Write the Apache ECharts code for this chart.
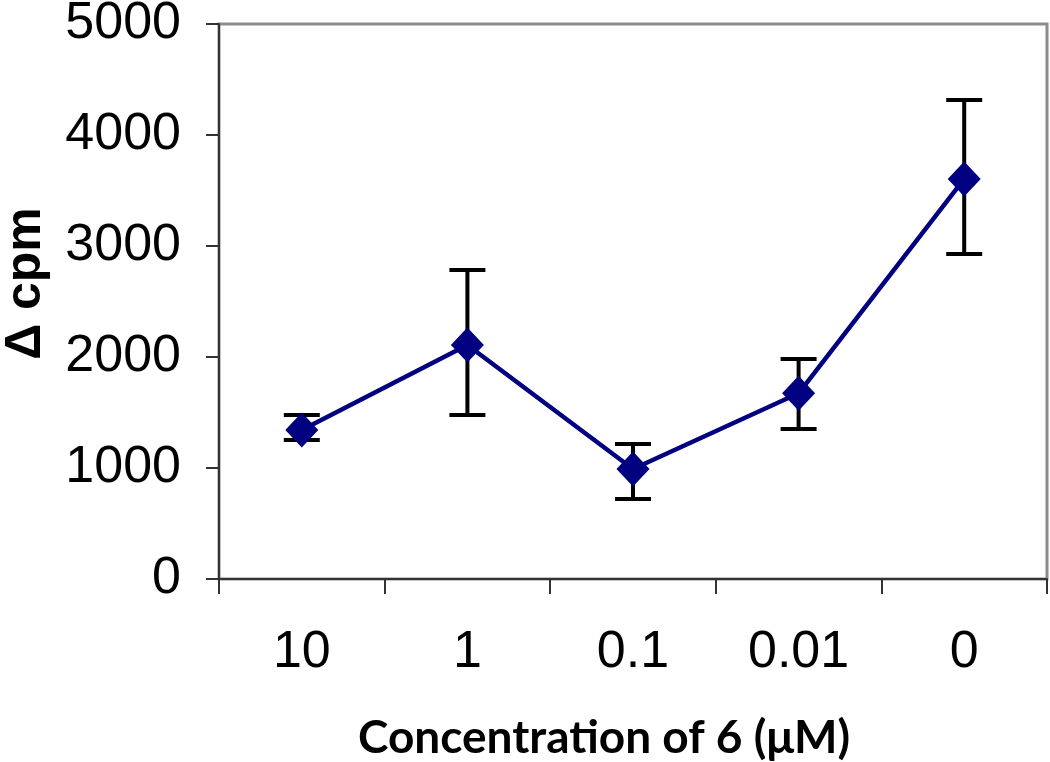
<!DOCTYPE html>
<html>
<head>
<meta charset="utf-8">
<script src="https://cdn.jsdelivr.net/npm/echarts@6/dist/echarts.min.js"></script>
<style>
html,body{margin:0;padding:0;background:#fff;}
#chart{width:1050px;height:762px;}
</style>
</head>
<body>
<div id="chart"></div>
<script>
const categories = ['10', '1', '0.1', '0.01', '0'];
const meanValues = [1342, 2108, 991, 1673, 3604];
const errorLow = [1252, 1477, 721, 1351, 2928];
const errorHigh = [1477, 2784, 1216, 1982, 4315];
const yTicks = [0, 1000, 2000, 3000, 4000, 5000];

const chart = echarts.init(document.getElementById('chart'), null, {renderer: 'canvas'});
const errData = categories.map((c, i) => [i, errorLow[i], errorHigh[i]]);

chart.setOption({
  backgroundColor: '#ffffff',
  animation: false,
  grid: {left: 219, right: 3, top: 24, bottom: 183, containLabel: false, outerBoundsMode: 'none', show: true, borderColor: '#8c8c8c', borderWidth: 3, backgroundColor: '#ffffff'},
  xAxis: {
    type: 'category',
    data: categories,
    boundaryGap: true,
    name: 'Concentration of 6 (\u03bcM)',
    nameLocation: 'middle',
    nameGap: 136,
    nameTextStyle: {fontFamily: 'Lato', fontWeight: 'bold', fontSize: 46, color: '#000', padding: [0, 58, 0, 0]},
    axisLine: {show: true, onZero: false, lineStyle: {color: '#333', width: 2}},
    axisTick: {show: true, alignWithLabel: false, length: 15, lineStyle: {color: '#333', width: 2}},
    axisLabel: {fontFamily: 'Liberation Sans', fontSize: 52, color: '#000', margin: 48},
    splitLine: {show: false}
  },
  yAxis: {
    type: 'value',
    min: yTicks[0],
    max: yTicks[yTicks.length - 1],
    interval: 1000,
    name: '\u0394 cpm',
    nameLocation: 'middle',
    nameGap: 168,
    nameRotate: 90,
    nameTextStyle: {fontFamily: 'Liberation Sans', fontWeight: 'bold', fontSize: 50, color: '#000', padding: [0, 0, 0, 36]},
    axisLine: {show: true, lineStyle: {color: '#333', width: 2}},
    axisTick: {show: true, length: 13, lineStyle: {color: '#333', width: 2}},
    axisLabel: {fontFamily: 'Liberation Sans', fontSize: 52, color: '#000', margin: 38, formatter: function (v) { return String(v); }},
    splitLine: {show: false}
  },
  series: [
    {
      type: 'custom',
      z: 1,
      data: errData,
      renderItem: function (params, api) {
        const x = api.value(0);
        const lo = api.coord([x, api.value(1)]);
        const hi = api.coord([x, api.value(2)]);
        const half = 18;
        const style = {stroke: '#000', lineWidth: 4};
        return {
          type: 'group',
          children: [
            {type: 'line', shape: {x1: lo[0], y1: lo[1], x2: hi[0], y2: hi[1]}, style: style},
            {type: 'line', shape: {x1: lo[0] - half, y1: lo[1], x2: lo[0] + half, y2: lo[1]}, style: style},
            {type: 'line', shape: {x1: hi[0] - half, y1: hi[1], x2: hi[0] + half, y2: hi[1]}, style: style}
          ]
        };
      }
    },
    {
      type: 'line',
      z: 3,
      data: meanValues,
      symbol: 'diamond',
      symbolSize: [33, 35],
      lineStyle: {color: '#000080', width: 4.5},
      itemStyle: {color: '#000080', borderWidth: 0}
    }
  ]
});
</script>
</body>
</html>
